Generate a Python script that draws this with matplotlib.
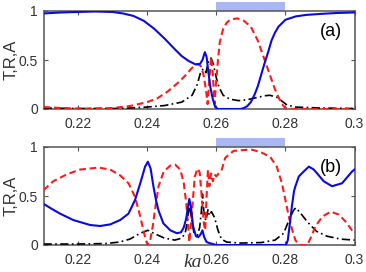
import matplotlib
matplotlib.use("Agg")
import matplotlib.pyplot as plt
from matplotlib.patches import Rectangle

# ---------------- data ----------------
# Panel (a)
xa_T = [0.21, 0.215, 0.22, 0.225, 0.23, 0.233, 0.236, 0.239, 0.242, 0.245, 0.248, 0.25, 0.252,
        0.254, 0.2553, 0.256, 0.2567, 0.2572, 0.2577, 0.2583, 0.259, 0.2597, 0.2605, 0.267, 0.268,
        0.269, 0.27, 0.271, 0.272, 0.273, 0.274, 0.275, 0.276, 0.277, 0.278, 0.28, 0.283, 0.286,
        0.29, 0.295, 0.3]
a_T = [0.975, 0.985, 0.99, 0.995, 0.99, 0.975, 0.95, 0.9, 0.82, 0.72, 0.61, 0.54, 0.49,
       0.455, 0.46, 0.5, 0.58, 0.53, 0.38, 0.22, 0.1, 0.02, 0.0, 0.0, 0.01,
       0.03, 0.07, 0.14, 0.23, 0.35, 0.47, 0.58, 0.7, 0.78, 0.84, 0.91, 0.945, 0.96,
       0.97, 0.98, 0.985]

xa_R = [0.21, 0.215, 0.22, 0.225, 0.23, 0.235, 0.24, 0.243, 0.246, 0.249, 0.251, 0.253, 0.2545,
        0.2555, 0.2563, 0.257, 0.2575, 0.258, 0.2585, 0.259, 0.2595, 0.26, 0.2605, 0.261, 0.262,
        0.263, 0.264, 0.266, 0.268, 0.27, 0.272, 0.273, 0.274, 0.275, 0.276, 0.277, 0.278, 0.279,
        0.28, 0.282, 0.29, 0.3]
a_R = [0.02, 0.01, 0.005, 0.005, 0.01, 0.03, 0.07, 0.11, 0.18, 0.27, 0.34, 0.42, 0.46,
       0.44, 0.35, 0.2, 0.05, 0.3, 0.53, 0.35, 0.05, 0.3, 0.5, 0.68, 0.82,
       0.88, 0.91, 0.925, 0.9, 0.84, 0.7, 0.6, 0.5, 0.4, 0.3, 0.2, 0.12, 0.05,
       0.01, 0.0, 0.0, 0.0]

xa_A = [0.21, 0.22, 0.23, 0.235, 0.24, 0.245, 0.25, 0.253, 0.2545, 0.2555, 0.2563, 0.257, 0.2577,
        0.2585, 0.2592, 0.26, 0.2608, 0.262, 0.264, 0.2665, 0.269, 0.2715, 0.274, 0.2755, 0.2775,
        0.279, 0.2805, 0.283, 0.29, 0.3]
a_A = [0.01, 0.005, 0.005, 0.01, 0.02, 0.035, 0.07, 0.14, 0.25, 0.38, 0.41, 0.37, 0.48,
       0.52, 0.45, 0.32, 0.22, 0.14, 0.1, 0.085, 0.095, 0.115, 0.135, 0.14, 0.12,
       0.08, 0.04, 0.02, 0.01, 0.005]

# Panel (b)
xb_T = [0.21, 0.2128, 0.2148, 0.2186, 0.2235, 0.2264, 0.2293, 0.2322, 0.2346, 0.2365, 0.238,
        0.2394, 0.2402, 0.241, 0.2418, 0.2426, 0.2433, 0.2447, 0.2467, 0.2486, 0.2498, 0.2506,
        0.2513, 0.2518, 0.2522, 0.2527, 0.2533, 0.2541, 0.2548, 0.2555, 0.256, 0.2565, 0.2572,
        0.258, 0.259, 0.26, 0.2802, 0.2807, 0.2813, 0.2819, 0.2825, 0.2829, 0.2839, 0.2853,
        0.2868, 0.2882, 0.2892, 0.2911, 0.2935, 0.2964, 0.2993, 0.3]
b_T = [0.42, 0.36, 0.32, 0.255, 0.204, 0.194, 0.21, 0.255, 0.32, 0.46, 0.63,
       0.8, 0.85, 0.78, 0.6, 0.45, 0.35, 0.22, 0.15, 0.12, 0.13, 0.18,
       0.27, 0.39, 0.47, 0.38, 0.19, 0.09, 0.08, 0.11, 0.15, 0.08, 0.03,
       0.02, 0.01, 0.0, 0.0, 0.05, 0.22, 0.4, 0.55, 0.6, 0.7, 0.75,
       0.8, 0.77, 0.73, 0.65, 0.6, 0.63, 0.75, 0.77]

xb_R = [0.21, 0.2128, 0.2167, 0.2206, 0.2259, 0.2293, 0.2322, 0.2346, 0.2365, 0.238, 0.2391,
        0.2399, 0.2403, 0.2409, 0.2416, 0.2424, 0.2433, 0.2448, 0.2467, 0.2481, 0.2496, 0.2506,
        0.2513, 0.2518, 0.2522, 0.2527, 0.2532, 0.2538, 0.2546, 0.2552, 0.2559, 0.2564, 0.2568,
        0.2572, 0.2576, 0.258, 0.2585, 0.259, 0.2595, 0.26, 0.2616, 0.2626, 0.265, 0.27,
        0.2727, 0.2756, 0.2775, 0.279, 0.28, 0.281, 0.282, 0.2829, 0.2839, 0.2863, 0.2873,
        0.2887, 0.2907, 0.2931, 0.2955, 0.2974, 0.2993, 0.3]
b_R = [0.56, 0.65, 0.72, 0.77, 0.79, 0.77, 0.71, 0.63, 0.49, 0.29, 0.12,
       0.02, 0.0, 0.05, 0.19, 0.39, 0.6, 0.75, 0.81, 0.82, 0.77, 0.63,
       0.43, 0.22, 0.03, 0.22, 0.45, 0.7, 0.78, 0.74, 0.45, 0.22, 0.15,
       0.5, 0.77, 0.6, 0.73, 0.65, 0.72, 0.7, 0.77, 0.89, 0.96, 0.975,
       0.95, 0.9, 0.8, 0.63, 0.46, 0.29, 0.15, 0.05, 0.0, 0.0, 0.07,
       0.19, 0.29, 0.34, 0.31, 0.24, 0.15, 0.14]

xb_A = [0.21, 0.22, 0.228, 0.232, 0.235, 0.238, 0.2402, 0.2425, 0.245, 0.248, 0.25, 0.251,
        0.2517, 0.2522, 0.2527, 0.2535, 0.2545, 0.2552, 0.2557, 0.256, 0.2565, 0.257, 0.2576,
        0.258, 0.2586, 0.2595, 0.2605, 0.2615, 0.263, 0.267, 0.273, 0.277, 0.2795, 0.281,
        0.2823, 0.283, 0.2845, 0.2865, 0.289, 0.292, 0.296, 0.3]
b_A = [0.01, 0.01, 0.015, 0.03, 0.06, 0.12, 0.15, 0.11, 0.07, 0.05, 0.07, 0.12,
       0.25, 0.42, 0.3, 0.13, 0.1, 0.18, 0.35, 0.52, 0.3, 0.25, 0.36,
       0.3, 0.34, 0.28, 0.15, 0.06, 0.03, 0.02, 0.025, 0.05, 0.12, 0.25,
       0.35, 0.38, 0.32, 0.23, 0.14, 0.09, 0.06, 0.05]

band = [0.26, 0.28]
xticks = [0.22, 0.24, 0.26, 0.28, 0.3]
xticklabels = ["0.22", "0.24", "0.26", "0.28", "0.3"]
yticks = [0, 0.5, 1]
yticklabels = ["0", "0.5", "1"]
panel_labels = ["(a)", "(b)"]

# ---------------- figure ----------------
plt.rcParams['font.family'] = ['Liberation Sans', 'DejaVu Sans']
fig = plt.figure(figsize=(3.66, 2.72), dpi=100)
W, H = 366, 272

def make_ax(top_px, bottom_px):
    l, r = 43.5, 354.5
    return fig.add_axes([l / W, 1 - bottom_px / H, (r - l) / W, (bottom_px - top_px) / H])

axes = [make_ax(11, 109), make_ax(147, 245)]
data = [(xa_T, a_T, xa_R, a_R, xa_A, a_A), (xb_T, b_T, xb_R, b_R, xb_A, b_A)]

frame_col = '#555555'
for ax, d, lab in zip(axes, data, panel_labels):
    xT, T, xR, R, xA, A = d
    ax.plot(xA, A, color='black', lw=1.2, ls='-.', dashes=(5, 2, 1, 2), zorder=3)
    ax.plot(xR, R, color='#ff1a1a', lw=1.5, ls='--', dashes=(3.2, 1.8), zorder=4)
    ax.plot(xT, T, color='#0a0ae0', lw=1.5, ls='-', zorder=5)
    ax.set_xlim(0.21, 0.3)
    ax.set_ylim(0, 1)
    ax.set_xticks(xticks)
    ax.set_xticklabels(xticklabels)
    ax.set_yticks(yticks)
    ax.set_yticklabels(yticklabels)
    ax.tick_params(direction='in', length=3, width=0.8, color=frame_col,
                   top=True, right=True, labelsize=10, labelcolor='#333333')
    ax.tick_params(axis='x', pad=6)
    ax.tick_params(axis='y', pad=4)
    for s in ax.spines.values():
        s.set_color(frame_col)
        s.set_linewidth(1.1)
    ax.set_ylabel("T,R,A", fontsize=12, color='#333333')
    ax.yaxis.set_label_coords(-0.079, 0.5)
    ax.text(0.96, 0.88, lab, transform=ax.transAxes, ha='right', va='top',
            fontsize=13, color='black')
    rect = Rectangle((band[0], 1.0), band[1] - band[0], 0.092,
                     transform=ax.get_xaxis_transform(), facecolor='#a9b7f5',
                     edgecolor='none', clip_on=False, zorder=0)
    ax.add_patch(rect)

fig.text(193 / W, 1 - 271 / H, "ka", ha='center', va='bottom', fontsize=14,
         family='Liberation Serif', style='italic', color='#333333')

fig.savefig("out.png", dpi=100)
